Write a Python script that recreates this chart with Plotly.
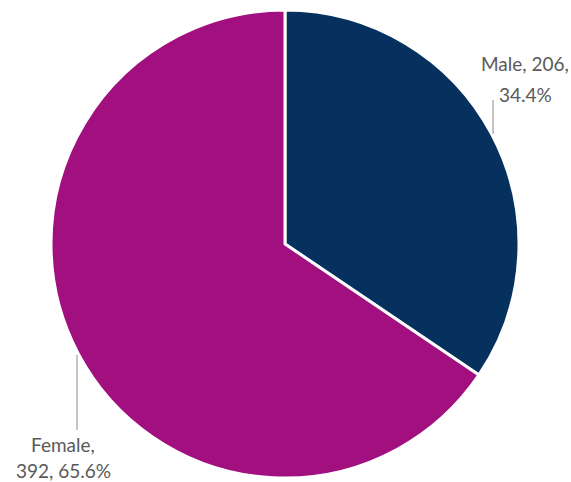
import plotly.graph_objects as go

labels = ["Male", "Female"]
values = [206, 392]
colors = ["#06305E", "#A20F7E"]

W, H = 571, 482
total = sum(values)
pcts = [v / total * 100 for v in values]

fig = go.Figure(go.Pie(
    labels=labels, values=values, sort=False, direction="clockwise", rotation=0,
    marker=dict(colors=colors, line=dict(color="white", width=3)),
    textinfo="none", hoverinfo="label+value+percent", showlegend=False,
    domain=dict(x=[51 / W, 519 / W], y=[4 / H, 472 / H]),
))

def px(x, y):
    return x / W, 1 - y / H

font = dict(family="Lato, 'Open Sans', sans-serif", size=19, color="#595959")
label_lines = [
    (f"{labels[0]}, {values[0]},", 525, 64),
    (f"{pcts[0]:.1f}%", 525, 95),
    (f"{labels[1]},", 63, 444),
    (f"{values[1]}, {pcts[1]:.1f}%", 63, 470),
]
for txt, x, y in label_lines:
    ax, ay = px(x, y)
    fig.add_annotation(x=ax, y=ay, xref="paper", yref="paper", text=txt, showarrow=False,
                       align="center", font=font, xanchor="center", yanchor="middle")

for (x0, y0, x1, y1) in [(493, 100, 493, 134), (77, 355, 77, 430)]:
    a = px(x0, y0); b = px(x1, y1)
    fig.add_shape(type="line", xref="paper", yref="paper", x0=a[0], y0=a[1], x1=b[0], y1=b[1],
                  line=dict(color="#A6A6A6", width=1.3))

fig.update_layout(width=W, height=H, margin=dict(l=0, r=0, t=0, b=0),
                  paper_bgcolor="white", plot_bgcolor="white")
fig.write_html("out.html", config={"displayModeBar": False},
               post_script="document.body.style.margin='0';document.body.style.overflow='hidden';")
